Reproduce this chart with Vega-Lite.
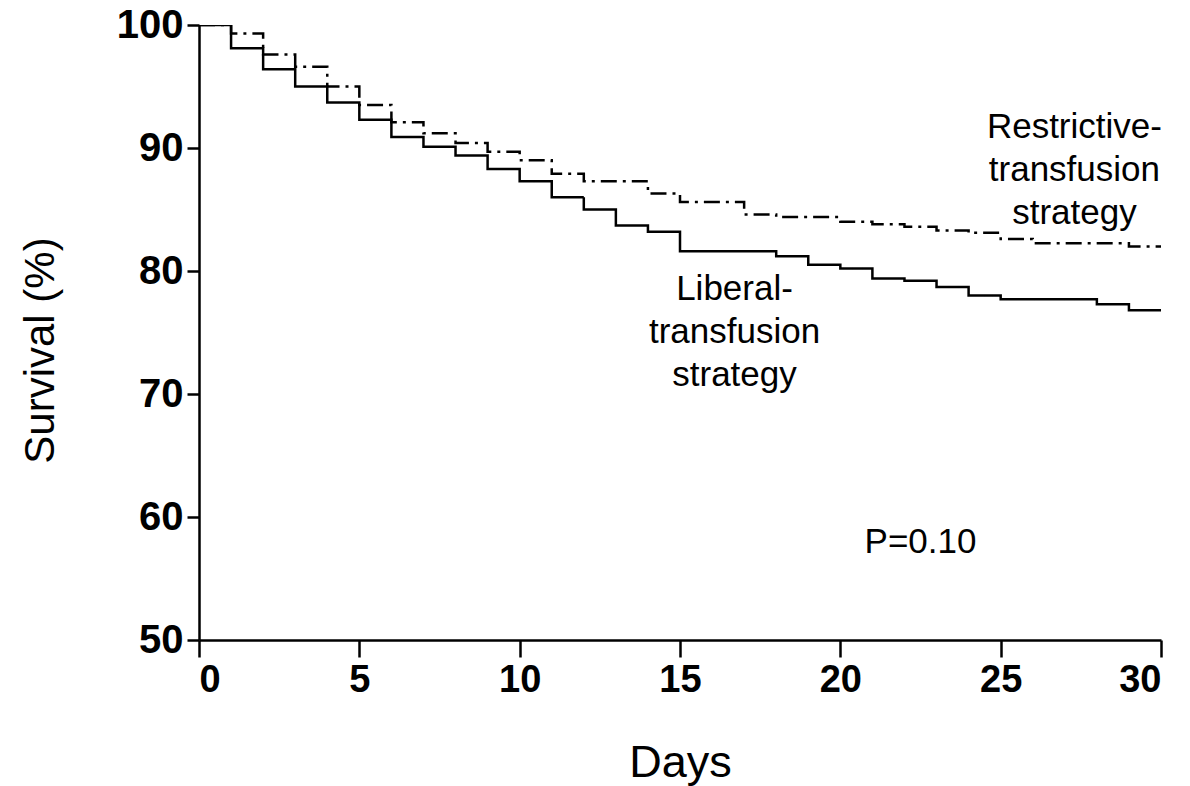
{
  "$schema": "https://vega.github.io/schema/vega-lite/v6.json",
  "autosize": "none",
  "width": 962,
  "height": 615,
  "padding": {"left": 199, "top": 25, "right": 29, "bottom": 146},
  "background": "white",
  "config": {
    "view": {"stroke": null},
    "font": "Liberation Sans",
    "axis": {
      "grid": false,
      "domainColor": "black",
      "domainWidth": 2.5,
      "tickColor": "black",
      "tickWidth": 2.5,
      "labelColor": "black",
      "labelFont": "Liberation Sans",
      "labelFontWeight": "bold",
      "labelFontSize": 36,
      "titleColor": "black",
      "titleFont": "Liberation Sans",
      "titleFontWeight": "normal"
    }
  },
  "datasets": {
    "curves": [
      {"group": "Liberal", "day": 0, "survival": 100},
      {"group": "Liberal", "day": 1, "survival": 98.1},
      {"group": "Liberal", "day": 2, "survival": 96.4},
      {"group": "Liberal", "day": 3, "survival": 95.0},
      {"group": "Liberal", "day": 4, "survival": 93.7},
      {"group": "Liberal", "day": 5, "survival": 92.3},
      {"group": "Liberal", "day": 6, "survival": 90.9},
      {"group": "Liberal", "day": 7, "survival": 90.1},
      {"group": "Liberal", "day": 8, "survival": 89.4},
      {"group": "Liberal", "day": 9, "survival": 88.3},
      {"group": "Liberal", "day": 10, "survival": 87.3},
      {"group": "Liberal", "day": 11, "survival": 86.0},
      {"group": "Liberal", "day": 12, "survival": 85.0},
      {"group": "Liberal", "day": 13, "survival": 83.7},
      {"group": "Liberal", "day": 14, "survival": 83.2},
      {"group": "Liberal", "day": 15, "survival": 81.6},
      {"group": "Liberal", "day": 18, "survival": 81.2},
      {"group": "Liberal", "day": 19, "survival": 80.5},
      {"group": "Liberal", "day": 20, "survival": 80.2},
      {"group": "Liberal", "day": 21, "survival": 79.4},
      {"group": "Liberal", "day": 22, "survival": 79.2},
      {"group": "Liberal", "day": 23, "survival": 78.7},
      {"group": "Liberal", "day": 24, "survival": 78.0},
      {"group": "Liberal", "day": 25, "survival": 77.7},
      {"group": "Liberal", "day": 28, "survival": 77.3},
      {"group": "Liberal", "day": 29, "survival": 76.8},
      {"group": "Liberal", "day": 30, "survival": 76.8},
      {"group": "Restrictive", "day": 0, "survival": 100},
      {"group": "Restrictive", "day": 1, "survival": 99.3},
      {"group": "Restrictive", "day": 2, "survival": 97.6},
      {"group": "Restrictive", "day": 3, "survival": 96.6},
      {"group": "Restrictive", "day": 4, "survival": 95.0},
      {"group": "Restrictive", "day": 5, "survival": 93.5},
      {"group": "Restrictive", "day": 6, "survival": 92.1},
      {"group": "Restrictive", "day": 7, "survival": 91.2},
      {"group": "Restrictive", "day": 8, "survival": 90.4},
      {"group": "Restrictive", "day": 9, "survival": 89.7},
      {"group": "Restrictive", "day": 10, "survival": 89.0},
      {"group": "Restrictive", "day": 11, "survival": 87.9},
      {"group": "Restrictive", "day": 12, "survival": 87.3},
      {"group": "Restrictive", "day": 14, "survival": 86.3},
      {"group": "Restrictive", "day": 15, "survival": 85.6},
      {"group": "Restrictive", "day": 17, "survival": 84.6},
      {"group": "Restrictive", "day": 18, "survival": 84.4},
      {"group": "Restrictive", "day": 20, "survival": 84.0},
      {"group": "Restrictive", "day": 21, "survival": 83.8},
      {"group": "Restrictive", "day": 22, "survival": 83.6},
      {"group": "Restrictive", "day": 23, "survival": 83.3},
      {"group": "Restrictive", "day": 24, "survival": 83.1},
      {"group": "Restrictive", "day": 25, "survival": 82.6},
      {"group": "Restrictive", "day": 26, "survival": 82.25},
      {"group": "Restrictive", "day": 29, "survival": 82.0},
      {"group": "Restrictive", "day": 30, "survival": 82.0}
    ],
    "notes": [
      {"label": "Restrictive-\ntransfusion\nstrategy", "day": 27.3, "survival": 91.7},
      {"label": "Liberal-\ntransfusion\nstrategy", "day": 16.7, "survival": 78.5},
      {"label": "P=0.10", "day": 22.5, "survival": 58.0}
    ]
  },
  "layer": [
    {
      "data": {"name": "curves"},
      "mark": {"type": "line", "interpolate": "step-after", "color": "black", "strokeWidth": 2.5, "clip": true},
      "encoding": {
        "x": {
          "field": "day", "type": "quantitative",
          "scale": {"domain": [0, 30], "nice": false, "zero": false},
          "axis": {
            "values": [0, 5, 10, 15, 20, 25, 30],
            "tickSize": 17,
            "labelPadding": 4,
            "labelFontSize": 38,
            "title": "Days",
            "titleFontSize": 45,
            "titleX": 481,
            "titleY": 122,
            "titleBaseline": "middle",
            "titleAlign": "center"
          }
        },
        "y": {
          "field": "survival", "type": "quantitative",
          "scale": {"domain": [50, 100], "nice": false, "zero": false},
          "axis": {
            "values": [50, 60, 70, 80, 90, 100],
            "tickSize": 12,
            "labelPadding": 4,
            "labelFontSize": 40,
            "title": "Survival (%)",
            "titleFontSize": 42,
            "titleAngle": -90,
            "titleX": -159,
            "titleY": 325,
            "titleBaseline": "middle",
            "titleAlign": "center"
          }
        },
        "detail": {"field": "group"},
        "strokeDash": {
          "field": "group", "type": "nominal",
          "scale": {"domain": ["Liberal", "Restrictive"], "range": [[1, 0], [16, 6, 3, 6]]},
          "legend": null
        }
      }
    },
    {
      "data": {"name": "notes"},
      "mark": {"type": "text", "align": "center", "baseline": "middle", "fontSize": 35, "lineHeight": 43, "lineBreak": "\n", "color": "black", "font": "Liberation Sans"},
      "encoding": {
        "x": {"field": "day", "type": "quantitative"},
        "y": {"field": "survival", "type": "quantitative"},
        "text": {"field": "label"}
      }
    }
  ]
}
